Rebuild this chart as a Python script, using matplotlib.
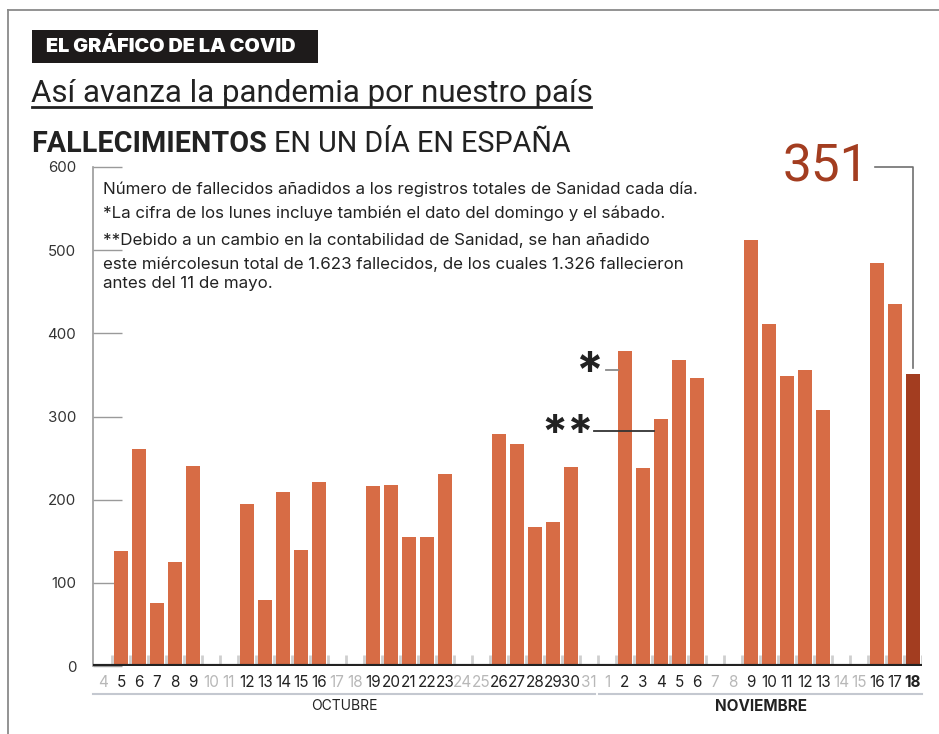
import matplotlib
matplotlib.use("Agg")
import matplotlib.pyplot as plt
import matplotlib.transforms as mtransforms
import datetime as dt

# ---------------- data ----------------
oct_days = list(range(4, 32))
nov_days = list(range(1, 19))
oct_values = [0, 138, 261, 76, 125, 240, 0, 0, 195, 79, 209, 139, 221, 0, 0,
              217, 218, 155, 155, 231, 0, 0, 279, 267, 167, 173, 239, 0]
nov_values = [0, 379, 238, 297, 368, 346, 0, 0, 512, 411, 349, 356, 308, 0, 0,
              484, 435, 351]
months = ["OCTUBRE", "NOVIEMBRE"]
yticks = [0, 100, 200, 300, 400, 500, 600]
last_value_label = "351"

days = oct_days + nov_days
values = oct_values + nov_values
dates = [dt.date(2020, 10, d) for d in oct_days] + [dt.date(2020, 11, d) for d in nov_days]
n = len(values)
xs = list(range(n))

BAR = "#D76C45"
BAR_LAST = "#A33D20"
DARK = "#222222"

W, H = 939, 734
fig = plt.figure(figsize=(W / 100, H / 100), dpi=100)
plt.rcParams['font.family'] = ['Inter', 'DejaVu Sans']

def P(x, y):
    return (x / W, 1 - y / H)

# frame lines (top & left)
fig.add_artist(plt.Line2D([8 / W, 1], [1 - 10 / H, 1 - 10 / H], transform=fig.transFigure,
                          color="#8a8a8a", lw=1.3))
fig.add_artist(plt.Line2D([8 / W, 8 / W], [0, 1 - 10 / H], transform=fig.transFigure,
                          color="#8a8a8a", lw=1.3))

# header box
fig.add_artist(plt.Rectangle(P(32, 63), 286 / W, 33 / H, transform=fig.transFigure,
                             facecolor="#1e1b1b", edgecolor="none"))
fig.text(*P(46, 47), "EL GRÁFICO DE LA COVID", color="white", fontsize=14.3,
         fontweight="black", va="center", ha="left", family=['Inter', 'DejaVu Sans'])

# title
fig.text(*P(31, 93), "Así avanza la pandemia por nuestro país", color=DARK, fontsize=22.5,
         va="center", ha="left", family=['Roboto', 'DejaVu Sans'])
fig.add_artist(plt.Line2D([32 / W, 591 / W], [1 - 106.5 / H, 1 - 106.5 / H],
                          transform=fig.transFigure, color=DARK, lw=2))

# subtitle
t1 = fig.text(*P(31, 144), "FALLECIMIENTOS", color=DARK, fontsize=20.7, fontweight="bold",
              va="center", ha="left", family=['Roboto', 'DejaVu Sans'])
fig.canvas.draw()
bb = t1.get_window_extent()
fig.text((bb.x1 + 7) / W, 1 - 144 / H, "EN UN DÍA EN ESPAÑA", color=DARK, fontsize=20.7,
         va="center", ha="left", family=['Roboto', 'DejaVu Sans'])

# ---------------- axes ----------------
x0, x1 = 93, 922
y0, y1 = 666, 167
ax = fig.add_axes([x0 / W, 1 - y0 / H, (x1 - x0) / W, (y0 - y1) / H])
ax.set_xlim(-0.55, n - 0.5)
ax.set_ylim(0, 600)

colors = [BAR] * (n - 1) + [BAR_LAST]
ax.vlines([i + 0.5 for i in range(n)], 0, 13, color="#cfcfcf", lw=2, zorder=1)
ax.bar(xs, values, width=0.74, color=colors, zorder=2)

for s in ["top", "right", "bottom"]:
    ax.spines[s].set_visible(False)
ax.spines["left"].set_color("#9a9a9a")
ax.spines["left"].set_linewidth(1.2)
ax.axhline(0, color=DARK, lw=3, zorder=3)

ax.set_yticks(yticks)
ax.set_yticklabels([str(v) for v in yticks])
ax.tick_params(axis="y", direction="in", length=21, width=1, color="#9a9a9a",
               labelsize=10.8, labelcolor="#333333", pad=12)
ax.set_xticks([])

# x labels
trans = mtransforms.blended_transform_factory(ax.transData, ax.transAxes)
for i, (d, dd) in enumerate(zip(days, dates)):
    weekend = dd.weekday() >= 5
    last = i == n - 1
    ax.text(i, -0.034, str(d), transform=trans, ha="center", va="center",
            fontsize=11, color=("#b8b8b8" if weekend else DARK),
            fontweight=("bold" if last else "normal"))

n_oct = len(oct_days)
ax.plot([-0.55, n_oct - 0.65], [-0.056, -0.056], transform=trans, color="#c4c8d0",
        lw=1.5, clip_on=False)
ax.plot([n_oct - 0.42, n - 0.5], [-0.056, -0.056], transform=trans, color="#c4c8d0",
        lw=1.5, clip_on=False)
ax.text((-0.55 + n_oct - 0.65) / 2, -0.081, months[0], transform=trans, ha="center",
        va="center", fontsize=10, color=DARK)
ax.text((n_oct - 0.42 + n - 0.5) / 2, -0.081, months[1], transform=trans, ha="center",
        va="center", fontsize=11, color=DARK, fontweight="bold")

# note text
notes = [
    (189, "Número de fallecidos añadidos a los registros totales de Sanidad cada día."),
    (213, "*La cifra de los lunes incluye también el dato del domingo y el sábado."),
    (241, "**Debido a un cambio en la contabilidad de Sanidad, se han añadido"),
    (264, "este miércolesun total de 1.623 fallecidos, de los cuales 1.326 fallecieron"),
    (284, "antes del 11 de mayo."),
]
for y, s in notes:
    fig.text(*P(103, y), s, fontsize=12.2, color=DARK, va="center", ha="left")

# 351 label with leader
fig.text(*P(869, 167), last_value_label, fontsize=37, color=BAR_LAST, va="center",
         ha="right", family=['Roboto', 'DejaVu Sans'])
ax.plot([42.9, n - 1, n - 1], [600, 600, values[-1] + 7], color="#707070", lw=1.2,
        clip_on=False, zorder=4)

# asterisks
i_nov2 = n_oct + 1
i_nov4 = n_oct + 3
ax.plot([i_nov2 - 1.05, i_nov2 - 0.37], [356, 356], color="#8a8a8a", lw=1.3, zorder=4)
ax.text(i_nov2 - 2.0, 350, "*", fontsize=36, fontweight="bold", ha="center", va="center",
        color=DARK)
ax.plot([i_nov4 - 3.7, i_nov4 - 0.37], [282, 282], color="#333333", lw=1.3, zorder=4)
ax.text(i_nov4 - 5.2, 276, "**", fontsize=34, fontweight="bold", ha="center", va="center",
        color=DARK)

fig.savefig("out.png", dpi=100, facecolor="white")
